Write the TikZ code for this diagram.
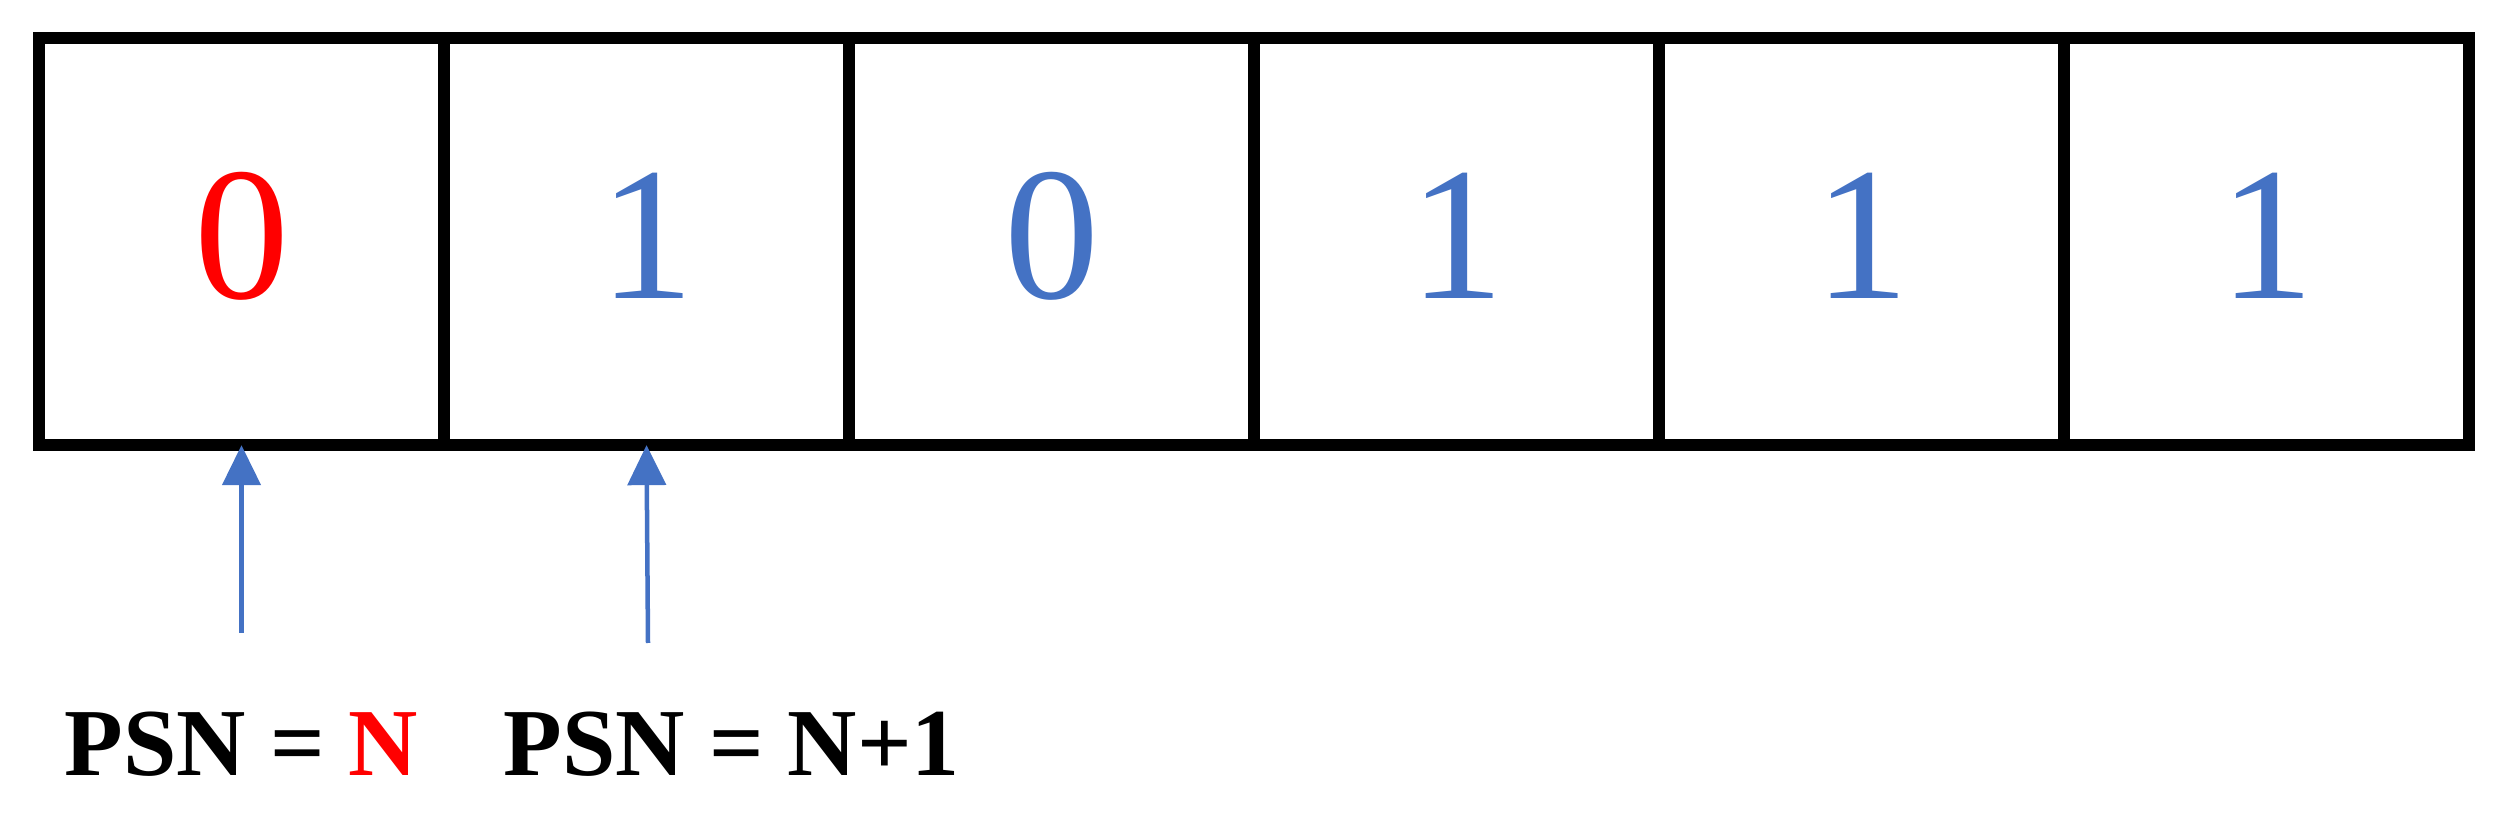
\documentclass[tikz,border=0pt]{standalone}
\usepackage{fontspec}
\setmainfont{Liberation Serif}
\usetikzlibrary{arrows.meta}
\definecolor{officeblue}{HTML}{4472C4}
\definecolor{purered}{HTML}{FF0000}
\tikzset{
  cell/.style={draw=black, line width=0.12cm, minimum width=4.05cm, minimum height=4.07cm, inner sep=0pt, outer sep=0pt},
  digit/.style={anchor=base, inner sep=0pt, font=\fontsize{54}{60}\selectfont},
  pointer/.style={draw=officeblue, line width=0.045cm, -{Triangle[width=0.38cm,length=0.40cm]}},
  psnlabel/.style={anchor=base west, inner sep=0pt, font=\bfseries\fontsize{27.3}{32}\selectfont}
}
\begin{document}
\begin{tikzpicture}[x=0.01cm, y=-0.01cm]
\useasboundingbox (0,0) rectangle (2506,813);
\foreach \i in {0,...,5} {
  \node[cell] (b\i) at ({241.5+405*\i},241.5) {};
}
\node[digit, text=purered] (d0) at (241.5,299) {0};
\node[digit, text=officeblue] (d1) at (646.5,299) {1};
\node[digit, text=officeblue] (d2) at (1051.5,299) {0};
\node[digit, text=officeblue] (d3) at (1456.5,299) {1};
\node[digit, text=officeblue] (d4) at (1861.5,299) {1};
\node[digit, text=officeblue] (d5) at (2266.5,299) {1};
\coordinate (s0) at (241.5,633);
\coordinate (s1) at (648,643);
\draw[pointer] (s0) -- (b0.south);
\draw[pointer] (s1) -- (b1.south);
\node[psnlabel] (l0) at (64,775) {PSN = \textcolor{purered}{N}};
\node[psnlabel] (l1) at (503,775) {PSN = N+1};
\end{tikzpicture}
\end{document}
